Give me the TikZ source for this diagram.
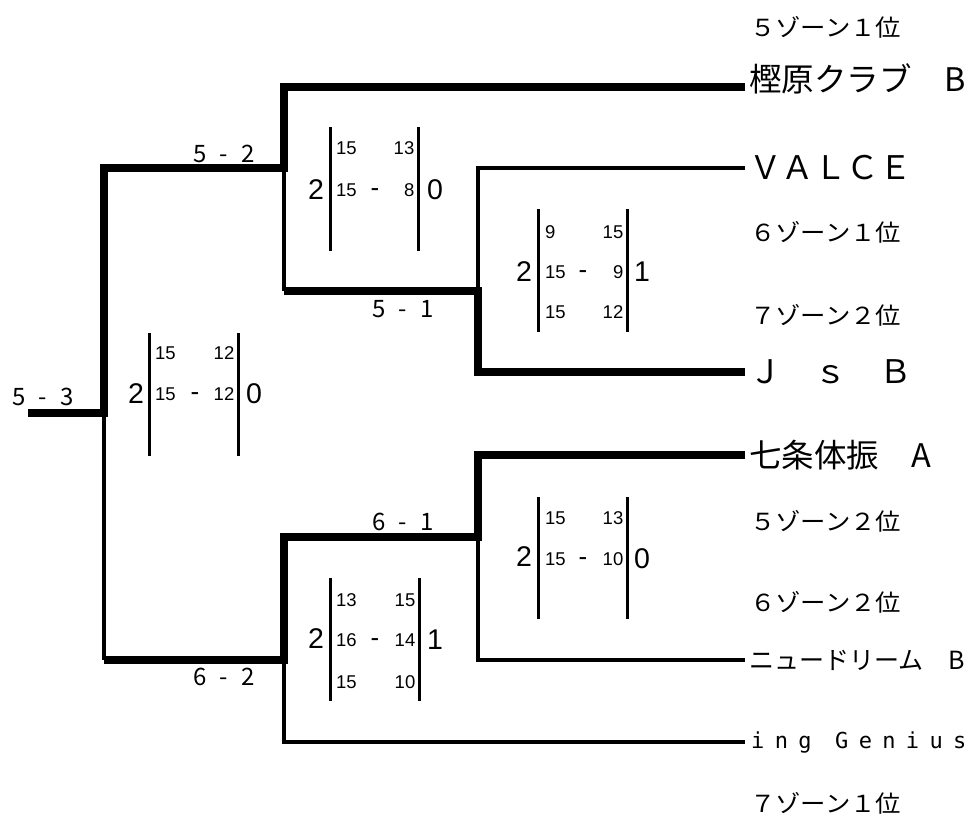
\documentclass[tikz,border=0pt]{standalone}
\usepackage{fontspec}
\setmainfont{Noto Sans CJK JP}
\newfontfamily\zonefont[FakeStretch=1.08]{Noto Sans CJK JP}
\newfontfamily\monofont[LetterSpace=47]{DejaVu Sans Mono}
\newfontfamily\numfont{Liberation Sans}

\begin{document}
\begin{tikzpicture}[
		x=1pt, y=-1pt,
		every node/.style={inner sep=0pt},
		win/.style={line width=7.5pt},
		lose/.style={line width=3.5pt},
		bar/.style={line width=3pt},
		team/.style={anchor=west, inner xsep=4pt, font=\fontsize{32.5}{32.5}\selectfont},
		zone/.style={anchor=west, font=\zonefont\fontsize{23.5}{23.5}\selectfont},
		score/.style={font=\fontsize{24}{24}\selectfont},
		big/.style={font=\numfont\fontsize{28.5}{28.5}\selectfont},
		pts/.style={font=\numfont\fontsize{18.5}{18.5}\selectfont},
		minus/.style={font=\numfont\fontsize{26}{26}\selectfont}
	]
  \useasboundingbox (0,0) rectangle (975,816);

  % teams
  \node (kashi) [team] at (745,79) {樫原クラブ　B};
  \node (valce) [team] at (745,168) {ＶＡＬＣＥ};
  \node (js) [team] at (745,372) {Ｊ　ｓ　Ｂ};
  \node (nana) [team] at (745,455) {七条体振　A};
  \node (new) [team, font=\fontsize{25}{25}\selectfont] at (745,660) {ニュードリーム　B};
  \node (ing) [team, inner xsep=6pt, font=\monofont\fontsize{22}{22}\selectfont] at (745,742) {ing Genius};

  \node (z51) [zone] at (750,27) {５ゾーン１位};
  \node (z61) [zone] at (750,232) {６ゾーン１位};
  \node (z72) [zone] at (750,315) {７ゾーン２位};
  \node (z52) [zone] at (750,521) {５ゾーン２位};
  \node (z62) [zone] at (750,602) {６ゾーン２位};
  \node (z71) [zone] at (750,803) {７ゾーン１位};

  % bracket
  \coordinate (root) at (28,413);
  \coordinate (f) at (104,413);
  \coordinate (sa) at (284,168);
  \coordinate (sb) at (284,660);
  \coordinate (qa) at (478,291);
  \coordinate (qb) at (478,537);
  \draw[lose] (sa) -- (sa |- qa);
  \draw[lose] (qa) |- (valce.west);
  \draw[lose] (f) -- (f |- sb);
  \draw[lose] (qb) |- (new.west);
  \draw[lose] (sb) |- (ing.west);
  \draw[win] (root) -- (f) |- (sa) |- ([yshift=-8pt]kashi.west);
  \draw[win] (sa |- qa) -- (qa) |- (js.west);
  \draw[win] (f |- sb) -- (sb) |- (qb) |- (nana.west);

  \node (m53) [score] at (43,397) {5\hspace{13pt}-\hspace{13pt}3};
  \node (m52) [score] at (224,154) {5\hspace{13pt}-\hspace{13pt}2};
  \node (m51) [score] at (403,309) {5\hspace{13pt}-\hspace{13pt}1};
  \node (m61) [score] at (403,522) {6\hspace{13pt}-\hspace{13pt}1};
  \node (m62) [score] at (224,677) {6\hspace{13pt}-\hspace{13pt}2};

  % final
  \node (f2) [big] at (136,394) {2};
  \node (f0) [big] at (254,394) {0};
  \draw[bar] (149,333) -- (149,456) (238,333) -- (238,456);
  \foreach \n/\y/\a/\b in {1/359.5/15/12, 2/400.5/15/12} {
    \node (fl\n) [pts, anchor=base west] at (155,\y) {\a};
    \node (fr\n) [pts, anchor=base east] at (234.5,\y) {\b};
  }
  \node (fd) [minus, anchor=base] at (195,400.5) {-};

  % semi top
  \node (sa2) [big] at (316,190) {2};
  \node (sa0) [big] at (435,190) {0};
  \draw[bar] (330,127) -- (330,251) (418,127) -- (418,251);
  \foreach \n/\y/\a/\b in {1/154.5/15/13, 2/196.5/15/8} {
    \node (sal\n) [pts, anchor=base west] at (336,\y) {\a};
    \node (sar\n) [pts, anchor=base east] at (414.5,\y) {\b};
  }
  \node (sad) [minus, anchor=base] at (375,196.5) {-};

  % quarter top
  \node (qa2) [big] at (524,272) {2};
  \node (qa1) [big] at (642,272) {1};
  \draw[bar] (538,209) -- (538,332) (627,209) -- (627,332);
  \foreach \n/\y/\a/\b in {1/238.5/9/15, 2/278.5/15/9, 3/318.5/15/12} {
    \node (qal\n) [pts, anchor=base west] at (545,\y) {\a};
    \node (qar\n) [pts, anchor=base east] at (623.5,\y) {\b};
  }
  \node (qad) [minus, anchor=base] at (583,278.5) {-};

  % quarter bottom
  \node (qb2) [big] at (524,557) {2};
  \node (qb0) [big] at (642,559) {0};
  \draw[bar] (538,497) -- (538,619) (627,497) -- (627,619);
  \foreach \n/\y/\a/\b in {1/524.5/15/13, 2/565.5/15/10} {
    \node (qbl\n) [pts, anchor=base west] at (545,\y) {\a};
    \node (qbr\n) [pts, anchor=base east] at (623.5,\y) {\b};
  }
  \node (qbd) [minus, anchor=base] at (583,565.5) {-};

  % semi bottom
  \node (sb2) [big] at (316,639) {2};
  \node (sb1) [big] at (435,640) {1};
  \draw[bar] (330,578) -- (330,701) (419,578) -- (419,701);
  \foreach \n/\y/\a/\b in {1/606.5/13/15, 2/646.5/16/14, 3/688.5/15/10} {
    \node (sbl\n) [pts, anchor=base west] at (336,\y) {\a};
    \node (sbr\n) [pts, anchor=base east] at (415.5,\y) {\b};
  }
  \node (sbd) [minus, anchor=base] at (375,646.5) {-};
\end{tikzpicture}
\end{document}
